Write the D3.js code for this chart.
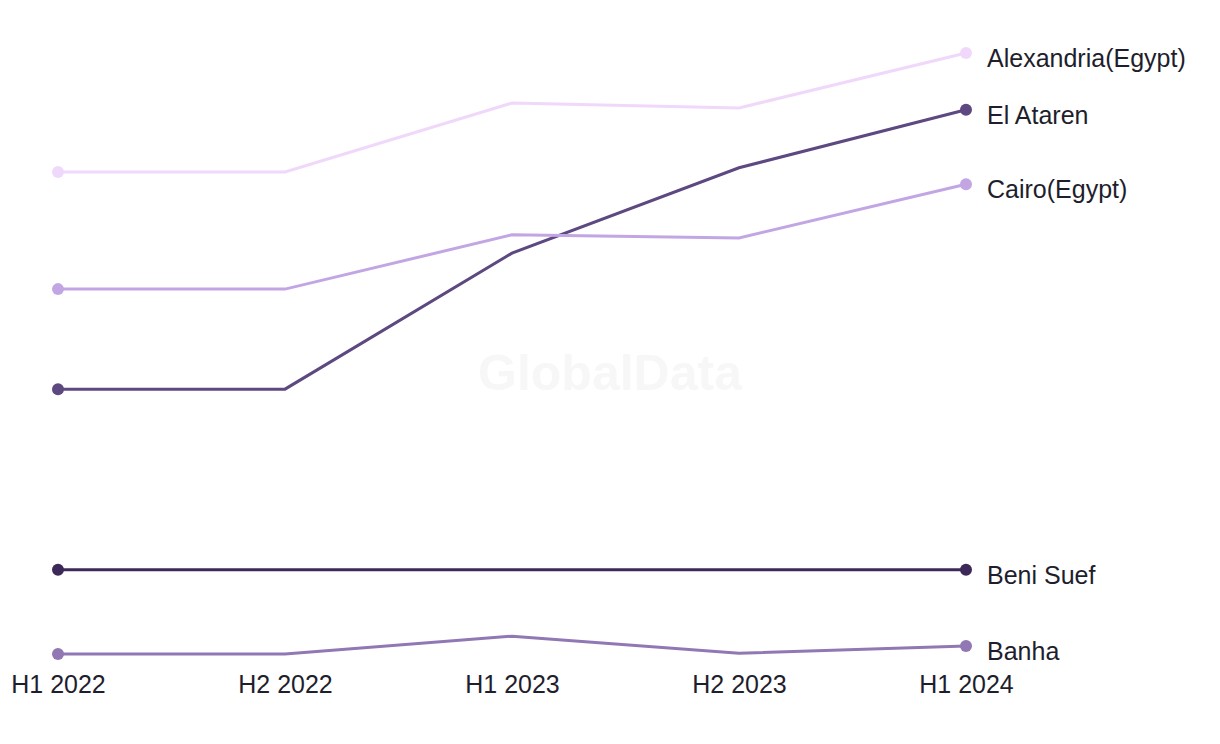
<!DOCTYPE html>
<html><head><meta charset="utf-8">
<script src="https://cdn.jsdelivr.net/npm/d3@7"></script>
<style>body{margin:0;background:#fff;} text{font-family:"Liberation Sans",Arial,sans-serif;}</style>
</head><body>
<svg id="chart" width="1220" height="744"></svg>
<script>
const periods = ["H1 2022","H2 2022","H1 2023","H2 2023","H1 2024"];
const seriesNames = ["Alexandria(Egypt)","El Ataren","Cairo(Egypt)","Beni Suef","Banha"];
const alexandria = [80.0, 80.0, 91.3, 90.5, 99.5];
const elAtaren = [44.4, 44.4, 66.7, 80.7, 90.2];
const cairo = [60.8, 60.8, 69.7, 69.2, 78.0];
const beniSuef = [14.8, 14.8, 14.8, 14.8, 14.8];
const banha = [1.0, 1.0, 3.9, 1.1, 2.3];
const colors = ["#f0d8fb","#5d4880","#c2a6e4","#3c2859","#9177b4"];

const series = [alexandria, elAtaren, cairo, beniSuef, banha].map((v,i)=>({name:seriesNames[i], values:v, color:colors[i]}));
const svg = d3.select("#chart");
const x = d3.scalePoint().domain(periods).range([58,966]);
const y = d3.scaleLinear().domain([0,100]).range([660,50]);

svg.append("text").attr("x",610).attr("y",390).attr("text-anchor","middle")
  .attr("font-size",50).attr("font-weight","bold").attr("fill","#f7f7f7").text("GlobalData");

const line = d3.line().x((d,i)=>x(periods[i])).y(d=>y(d));
const g = svg.selectAll("g.s").data(series).join("g").attr("class","s");
g.append("path").attr("d",d=>line(d.values)).attr("fill","none").attr("stroke",d=>d.color).attr("stroke-width",3);
g.append("circle").attr("cx",x(periods[0])).attr("cy",d=>y(d.values[0])).attr("r",6).attr("fill",d=>d.color);
g.append("circle").attr("cx",x(periods[4])).attr("cy",d=>y(d.values[4])).attr("r",6).attr("fill",d=>d.color);
g.append("text").attr("x",x(periods[4])+21).attr("y",d=>y(d.values[4])+14).attr("font-size",25).attr("fill","#1e1e2d").text(d=>d.name);

const axis = d3.axisBottom(x).tickSize(0).tickPadding(0);
const ax = svg.append("g").attr("transform","translate(0,693)").call(axis);
ax.select(".domain").remove();
ax.selectAll("text").attr("font-size",25).attr("fill","#1e1e2d").attr("font-family","Liberation Sans, Arial, sans-serif").attr("dy",0).attr("y",0);
</script>
</body></html>
